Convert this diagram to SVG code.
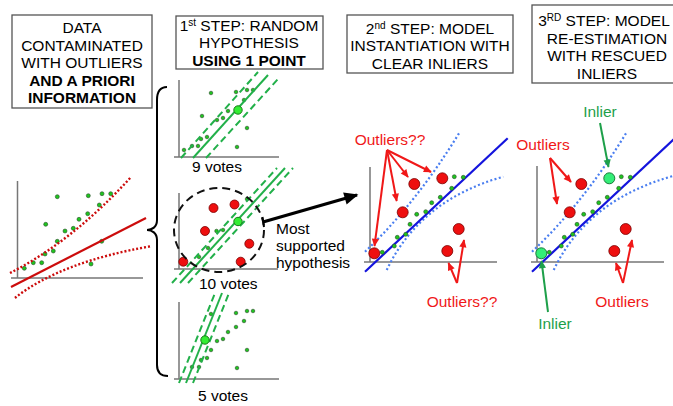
<svg xmlns="http://www.w3.org/2000/svg" width="673" height="406" viewBox="0 0 673 406">
<style>
text{font-family:"Liberation Sans",Arial,sans-serif;font-size:15.5px;fill:#000}
.box{fill:#fff;stroke:#555;stroke-width:1.3}
.b{font-weight:bold}
.ax{stroke:#777;stroke-width:1.5;fill:none}
.pt{fill:#1fc41f;stroke:#2a4a2a;stroke-width:0.6}
.big{fill:#33ee33;stroke:#1a7a1a;stroke-width:1}
.bigm{fill:#33ee77;stroke:#1a7a3a;stroke-width:1}
.red{fill:#ee0f0f;stroke:#7a0000;stroke-width:0.8}
.gs{stroke:#22b04a;stroke-width:2;fill:none}
.gd{stroke:#22b04a;stroke-width:2;fill:none;stroke-dasharray:7 4}
.rs{stroke:#cc0c0c;stroke-width:2.2;fill:none}
.rd{stroke:#cc0c0c;stroke-width:2.4;fill:none;stroke-dasharray:2 2}
.bl{stroke:#1414dd;stroke-width:2.2;fill:none}
.bd{stroke:#4a7ef0;stroke-width:2.2;fill:none;stroke-dasharray:2 2.4}
.ra{stroke:#f01818;stroke-width:2;fill:none;marker-end:url(#mr)}
.ga{stroke:#1ea04a;stroke-width:2;fill:none;marker-end:url(#mg)}
.rt{fill:#f01818}
.gt{fill:#1ea04a}
</style>
<defs>
<marker id="mr" viewBox="0 0 10 10" refX="9" refY="5" markerWidth="9" markerHeight="8" markerUnits="userSpaceOnUse" orient="auto"><path d="M0,0.5 L10,5 L0,9.5 z" fill="#f01818"/></marker>
<marker id="mg" viewBox="0 0 10 10" refX="9" refY="5" markerWidth="9" markerHeight="8" markerUnits="userSpaceOnUse" orient="auto"><path d="M0,0.5 L10,5 L0,9.5 z" fill="#1ea04a"/></marker>
<marker id="mk" viewBox="0 0 10 10" refX="9" refY="5" markerWidth="16" markerHeight="14" markerUnits="userSpaceOnUse" orient="auto"><path d="M0,0.5 L10,5 L0,9.5 z" fill="#000"/></marker>
</defs>

<g id="box-data">
<rect class="box" x="12" y="15" width="140" height="93"/>
<text x="82" y="33" text-anchor="middle">DATA</text>
<text x="82" y="50.5" text-anchor="middle">CONTAMINATED</text>
<text x="82" y="68" text-anchor="middle">WITH OUTLIERS</text>
<text x="82" y="85.5" text-anchor="middle" class="b">AND A PRIORI</text>
<text x="82" y="103" text-anchor="middle" class="b">INFORMATION</text>
</g>

<g id="box-step1">
<rect class="box" x="176" y="16" width="147" height="53"/>
<text x="249" y="30.5" text-anchor="middle">1<tspan font-size="10" dy="-5">st</tspan><tspan dy="5"> STEP: RANDOM</tspan></text>
<text x="249" y="48" text-anchor="middle">HYPOTHESIS</text>
<text x="249" y="65.5" text-anchor="middle" class="b">USING 1 POINT</text>
</g>

<g id="box-step2">
<rect class="box" x="347" y="15" width="166" height="58"/>
<text x="430" y="33.5" text-anchor="middle">2<tspan font-size="10" dy="-5">nd</tspan><tspan dy="5"> STEP: MODEL</tspan></text>
<text x="430" y="51" text-anchor="middle">INSTANTIATION WITH</text>
<text x="430" y="68.5" text-anchor="middle">CLEAR INLIERS</text>
</g>

<g id="box-step3">
<rect class="box" x="532" y="5" width="150" height="78"/>
<text x="604" y="26" text-anchor="middle">3<tspan font-size="10" dy="-5">RD</tspan><tspan dy="5"> STEP: MODEL</tspan></text>
<text x="607" y="43.5" text-anchor="middle">RE-ESTIMATION</text>
<text x="607" y="61" text-anchor="middle">WITH RESCUED</text>
<text x="607" y="78.5" text-anchor="middle">INLIERS</text>
</g>

<g id="plot-data">
<path class="ax" d="M17.5,181 V278 M11,278 H143"/>
<g>
<circle class="pt" cx="24.3" cy="268.3" r="2"/><circle class="pt" cx="33.3" cy="262.7" r="2"/>
<circle class="pt" cx="41.7" cy="262.7" r="2"/><circle class="pt" cx="45" cy="254" r="2"/>
<circle class="pt" cx="53.3" cy="251" r="2"/><circle class="pt" cx="57.3" cy="241.3" r="2"/>
<circle class="pt" cx="65" cy="231" r="2"/><circle class="pt" cx="73.3" cy="228.3" r="2"/>
<circle class="pt" cx="45.7" cy="224.3" r="2"/><circle class="pt" cx="79" cy="219.3" r="2"/>
<circle class="pt" cx="87.7" cy="213.7" r="2"/><circle class="pt" cx="57.3" cy="196.7" r="2"/>
<circle class="pt" cx="88.3" cy="195.7" r="2"/><circle class="pt" cx="99.3" cy="205" r="2"/>
<circle class="pt" cx="102" cy="193.7" r="2"/><circle class="pt" cx="110.7" cy="193.7" r="2"/>
<circle class="pt" cx="101.7" cy="241.3" r="2"/><circle class="pt" cx="91" cy="264" r="2"/>
</g>
<path class="rs" d="M11,287 L146,218"/>
<path class="rd" d="M10,273 Q73,241 131,177"/>
<path class="rd" d="M15,298 Q60,262 152,246"/>
</g>

<g id="brace">
<path d="M167,87 C160,87 157,92 157,100 L157,220 C157,227 152,230 147,230 C152,230 157,233 157,240 L157,365 C157,372 161,376 168,376" fill="none" stroke="#000" stroke-width="2"/>
</g>

<g id="plot-9votes">
<path class="ax" d="M179,80 V157 M174,157 H279"/>
<g>
<circle class="pt" cx="211" cy="93" r="1.8"/><circle class="pt" cx="236" cy="92" r="1.8"/>
<circle class="pt" cx="247" cy="90" r="1.8"/><circle class="pt" cx="253" cy="90" r="1.8"/>
<circle class="pt" cx="244" cy="100" r="1.8"/><circle class="pt" cx="228" cy="111" r="1.8"/>
<circle class="pt" cx="223" cy="118" r="1.8"/><circle class="pt" cx="217" cy="120" r="1.8"/>
<circle class="pt" cx="202" cy="116" r="1.8"/><circle class="pt" cx="247" cy="128" r="1.8"/>
<circle class="pt" cx="207" cy="137" r="1.8"/><circle class="pt" cx="201" cy="139" r="1.8"/>
<circle class="pt" cx="237" cy="147" r="1.8"/><circle class="pt" cx="192" cy="146" r="1.8"/>
<circle class="pt" cx="198" cy="146" r="1.8"/><circle class="pt" cx="184" cy="150" r="1.8"/>
</g>
<path class="gs" d="M193,158 L268,75"/>
<path class="gd" d="M181,158 L258,72"/>
<path class="gd" d="M206,158 L278,79"/>
<circle class="big" cx="238" cy="110" r="4.2"/>
<text x="192" y="172">9 votes</text>
</g>

<g id="plot-10votes">
<path class="ax" d="M179,193 V269 M174,269 H278"/>
<g>
<circle class="pt" cx="223" cy="230" r="1.8"/><circle class="pt" cx="216.5" cy="231" r="1.8"/>
<circle class="pt" cx="208" cy="248" r="1.8"/><circle class="pt" cx="199" cy="257" r="1.8"/>
<circle class="pt" cx="247" cy="199" r="1.8"/>
</g>
<path class="gs" d="M180,283 L285,168"/>
<path class="gd" d="M172,283 L277,168"/>
<path class="gd" d="M188,283 L293,168"/>
<circle class="red" cx="213.5" cy="208" r="4.5"/><circle class="red" cx="234.5" cy="204.5" r="4.5"/>
<circle class="red" cx="205" cy="231" r="4.5"/><circle class="red" cx="249.3" cy="243.7" r="4.5"/>
<circle class="red" cx="183.3" cy="261.7" r="4.5"/><circle class="red" cx="240.7" cy="261.7" r="4.5"/>
<circle class="big" cx="238" cy="221.5" r="4.2"/>
<ellipse cx="219" cy="230" rx="45" ry="42" fill="none" stroke="#111" stroke-width="2" stroke-dasharray="8 5"/>
<text x="199" y="289">10 votes</text>
</g>

<g id="plot-5votes">
<path class="ax" d="M179,302 V379 M174,379 H279"/>
<g>
<circle class="pt" cx="211" cy="314" r="1.8"/><circle class="pt" cx="236" cy="313" r="1.8"/>
<circle class="pt" cx="247" cy="311" r="1.8"/><circle class="pt" cx="253" cy="311" r="1.8"/>
<circle class="pt" cx="244" cy="321" r="1.8"/><circle class="pt" cx="236" cy="327" r="1.8"/>
<circle class="pt" cx="228" cy="332" r="1.8"/><circle class="pt" cx="223" cy="339" r="1.8"/>
<circle class="pt" cx="217" cy="341" r="1.8"/><circle class="pt" cx="211" cy="350" r="1.8"/>
<circle class="pt" cx="207" cy="358" r="1.8"/><circle class="pt" cx="201" cy="360" r="1.8"/>
<circle class="pt" cx="247" cy="350" r="1.8"/><circle class="pt" cx="237" cy="368" r="1.8"/>
<circle class="pt" cx="192" cy="367" r="1.8"/><circle class="pt" cx="199" cy="367" r="1.8"/>
</g>
<path class="gs" d="M186,383 L222,293"/>
<path class="gd" d="M179,383 L215,293"/>
<path class="gd" d="M193,383 L229,293"/>
<circle class="big" cx="205" cy="340" r="4.2"/>
<text x="198" y="401">5 votes</text>
</g>

<g id="most-supported">
<text x="276" y="234">Most</text>
<text x="276" y="251">supported</text>
<text x="276" y="268">hypothesis</text>
</g>

<g id="plot-step2">
<path class="ax" d="M370,167 V262 M364,262 H497"/>
<path class="bd" d="M365,251.7 Q416,203.5 459,133.3"/>
<path class="bd" d="M386.7,270 Q420,200 503.3,176.7"/>
<path class="bl" d="M365,271.7 L507.7,138.3"/>
<g>
<circle class="pt" cx="382.3" cy="252.3" r="2"/><circle class="pt" cx="394.3" cy="246" r="2"/>
<circle class="pt" cx="397.3" cy="237.3" r="2"/><circle class="pt" cx="405.7" cy="234.3" r="2"/>
<circle class="pt" cx="410" cy="224.3" r="2"/><circle class="pt" cx="416.7" cy="214.3" r="2"/>
<circle class="pt" cx="425.7" cy="211.7" r="2"/><circle class="pt" cx="431.7" cy="202.7" r="2"/>
<circle class="pt" cx="440.3" cy="197.3" r="2"/><circle class="pt" cx="451.7" cy="188.3" r="2"/>
<circle class="pt" cx="454.3" cy="176.7" r="2"/><circle class="pt" cx="463.3" cy="177.3" r="2"/>
</g>
<circle class="red" cx="374.3" cy="253.3" r="5.5"/><circle class="red" cx="414.3" cy="184" r="5.5"/>
<circle class="red" cx="442.3" cy="178.3" r="5.5"/><circle class="red" cx="402.7" cy="212.3" r="5.5"/>
<circle class="red" cx="458.7" cy="229" r="5.5"/><circle class="red" cx="447.3" cy="251" r="5.5"/>
</g>

<g id="plot-step3">
<path class="ax" d="M537,166 V262 M531,262 H664"/>
<path class="bd" d="M532,251.7 Q583,203.5 626,133.3"/>
<path class="bd" d="M553.7,270 Q587,200 673,176"/>
<path class="bl" d="M532,271.7 L674.7,138.3"/>
<g>
<circle class="pt" cx="549.3" cy="252.3" r="2"/><circle class="pt" cx="561.3" cy="246" r="2"/>
<circle class="pt" cx="564.3" cy="237.3" r="2"/><circle class="pt" cx="572.7" cy="234.3" r="2"/>
<circle class="pt" cx="577" cy="224.3" r="2"/><circle class="pt" cx="583.7" cy="214.3" r="2"/>
<circle class="pt" cx="592.7" cy="211.7" r="2"/><circle class="pt" cx="598.7" cy="202.7" r="2"/>
<circle class="pt" cx="607.3" cy="197.3" r="2"/><circle class="pt" cx="618.7" cy="188.3" r="2"/>
<circle class="pt" cx="621.3" cy="176.7" r="2"/><circle class="pt" cx="630.3" cy="177.3" r="2"/>
</g>
<circle class="red" cx="581.3" cy="184" r="5.5"/><circle class="red" cx="569.7" cy="212.3" r="5.5"/>
<circle class="red" cx="625.7" cy="229" r="5.5"/><circle class="red" cx="614.3" cy="251" r="5.5"/>
<circle class="bigm" cx="609.3" cy="178.3" r="5.5"/><circle class="bigm" cx="541.3" cy="253.3" r="5.5"/>
</g>

<g id="label-outliers-q-top">
<text x="390" y="145" text-anchor="middle" class="rt">Outliers??</text>
</g>
<g id="label-outliers-q-bottom">
<text x="462" y="307" text-anchor="middle" class="rt">Outliers??</text>
</g>
<g id="label-outliers-top">
<text x="543" y="150" text-anchor="middle" class="rt">Outliers</text>
</g>
<g id="label-outliers-bottom">
<text x="622" y="307" text-anchor="middle" class="rt">Outliers</text>
</g>
<g id="label-inlier-top">
<text x="600" y="117" text-anchor="middle" class="gt">Inlier</text>
</g>
<g id="label-inlier-bottom">
<text x="555" y="329" text-anchor="middle" class="gt">Inlier</text>
</g>

<g id="connectors">
<path d="M263,222 L357,195" fill="none" stroke="#000" stroke-width="3.2" marker-end="url(#mk)"/>
<path d="M262.5,217 L264,227" stroke="#000" stroke-width="2"/>
<path class="ra" d="M387,150 L374.5,246"/>
<path class="ra" d="M387,150 L396.7,201"/>
<path class="ra" d="M387,150 L408,177"/>
<path class="ra" d="M387,150 L431,172"/>
<path class="ra" d="M457,283 L448.5,263"/>
<path class="ra" d="M457,283 L464,240"/>
<path class="ra" d="M550,158 L571,182"/>
<path class="ra" d="M550,158 L557,204"/>
<path class="ra" d="M623,283 L616,263"/>
<path class="ra" d="M623,283 L632,240"/>
<path class="ga" d="M600,123 L608.5,167"/>
<path class="ga" d="M548,312 L541.5,261"/>
</g>
</svg>
